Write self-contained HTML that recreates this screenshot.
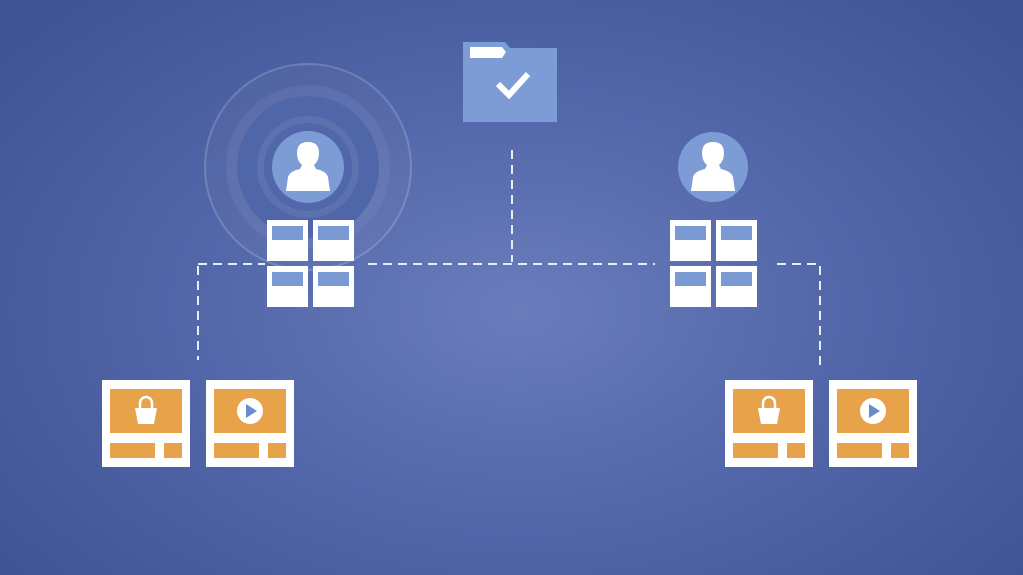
<!DOCTYPE html>
<html><head><style>
body{margin:0;width:1023px;height:575px;overflow:hidden;background:radial-gradient(ellipse 650px 420px at 520px 310px,#6a7cbb 0%,#5469ab 45%,#3f5395 100%);}
svg{position:absolute;left:0;top:0}
</style></head><body>
<svg width="1023" height="575" viewBox="0 0 1023 575">
<defs>
<g id="tile"><rect width="41" height="41" fill="#fff"/><rect x="5" y="6" width="31" height="14" fill="#7a98d2"/></g>
<g id="card"><rect width="88" height="87" fill="#fff"/><rect x="8" y="9" width="72" height="44" fill="#e8a24a"/><rect x="8" y="63" width="45" height="15" fill="#e8a24a"/><rect x="62" y="63" width="18" height="15" fill="#e8a24a"/></g>
<g id="bag"><path d="M-11,-4 L11,-4 L8,12 L-8,12 Z" fill="#fff"/><path d="M-6,-4 L-6,-9 A6,6 0 0 1 6,-9 L6,-4" stroke="#fff" stroke-width="2.5" fill="none"/></g>
<g id="play"><circle r="13" fill="#fff"/><path d="M-4,-7 L7,0 L-4,7 Z" fill="#6b8ccc"/></g>
<g id="person"><path d="M-22,24 L-20,10 Q-18,4 -8,2 L-6,-2 Q-11,-6 -11,-14 Q-11,-25 0,-25 Q11,-25 11,-14 Q11,-6 6,-2 L8,2 Q18,4 20,10 L22,24 Z" fill="#fff"/></g>
</defs>
<circle cx="308" cy="167" r="103" fill="rgba(255,255,255,0.03)" stroke="rgba(255,255,255,0.18)" stroke-width="2"/>
<circle cx="308" cy="167" r="82" fill="rgba(255,255,255,0.06)"/>
<circle cx="308" cy="167" r="71" fill="#4f67a8"/>
<circle cx="308" cy="167" r="51" fill="rgba(255,255,255,0.08)"/>
<circle cx="308" cy="167" r="44" fill="#5068a9"/>
<g stroke="#e8ecf6" stroke-width="2" stroke-dasharray="9,6" fill="none">
<path d="M512 150 V262"/>
<path d="M198 264 H265"/><path d="M368 264 H655"/><path d="M777 264 H820"/>
<path d="M198 266 V360"/><path d="M820 266 V366"/>
</g>
<path d="M463 42 H505 L510 48 H557 V122 H463 Z" fill="#7d9bd4"/>
<path d="M470 47 H502 L506 52 L502 58 H470 Z" fill="#fff"/>
<path d="M498 84 L509 95 L528 74" stroke="#fff" stroke-width="6" fill="none"/>
<circle cx="308" cy="167" r="36" fill="#7d9bd4"/>
<use href="#person" transform="translate(308,167)"/>
<circle cx="713" cy="167" r="35" fill="#7d9bd4"/>
<use href="#person" transform="translate(713,167)"/>
<use href="#tile" x="267" y="220"/><use href="#tile" x="313" y="220"/>
<use href="#tile" x="267" y="266"/><use href="#tile" x="313" y="266"/>
<use href="#tile" x="670" y="220"/><use href="#tile" x="716" y="220"/>
<use href="#tile" x="670" y="266"/><use href="#tile" x="716" y="266"/>
<use href="#card" x="102" y="380"/><use href="#bag" transform="translate(146,412)"/>
<use href="#card" x="206" y="380"/><use href="#play" transform="translate(250,411)"/>
<use href="#card" x="725" y="380"/><use href="#bag" transform="translate(769,412)"/>
<use href="#card" x="829" y="380"/><use href="#play" transform="translate(873,411)"/>
</svg>
</body></html>
